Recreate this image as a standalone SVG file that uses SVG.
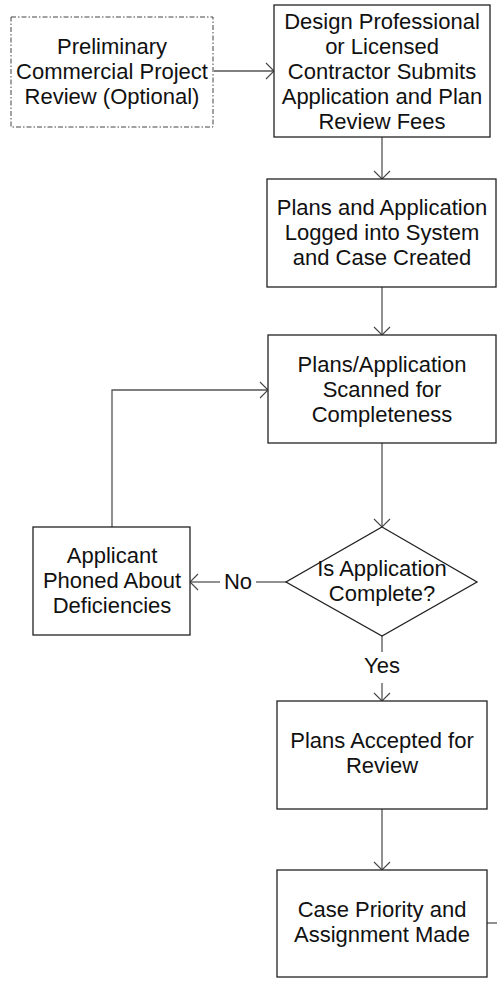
<svg xmlns="http://www.w3.org/2000/svg" width="497" height="981" viewBox="0 0 497 981">
<defs>
<style>
.box{fill:#fff;stroke:#222;stroke-width:1.3}
.dash{fill:#fff;stroke:#444;stroke-width:1;stroke-dasharray:5 2 1.5 2}
.t{font-family:"Liberation Sans",Arial,sans-serif;font-size:22px;fill:#111;text-anchor:middle}
.c{fill:none;stroke:#555;stroke-width:1.3}
</style>
<marker id="ah" markerUnits="userSpaceOnUse" markerWidth="12" markerHeight="18" refX="9" refY="8" orient="auto" overflow="visible">
<path d="M1,0 L9,8 L1,16" fill="none" stroke="#444" stroke-width="1.1"/>
</marker>
</defs>
<g id="connectors">
<line class="c" x1="214" y1="71" x2="274" y2="71" marker-end="url(#ah)"/>
<line class="c" x1="382" y1="137" x2="382" y2="179" marker-end="url(#ah)"/>
<line class="c" x1="382" y1="287" x2="382" y2="335" marker-end="url(#ah)"/>
<line class="c" x1="382" y1="443" x2="382" y2="527" marker-end="url(#ah)"/>
<polyline class="c" points="112,527 112,390 268,390" marker-end="url(#ah)"/>
<line class="c" x1="286" y1="582" x2="256" y2="582"/>
<line class="c" x1="220" y1="582" x2="190" y2="582" marker-end="url(#ah)"/>
<text class="t" x="238" y="589">No</text>
<line class="c" x1="382" y1="636" x2="382" y2="652"/>
<line class="c" x1="382" y1="683" x2="382" y2="701" marker-end="url(#ah)"/>
<text class="t" x="382" y="673">Yes</text>
<line class="c" x1="382" y1="809" x2="382" y2="870" marker-end="url(#ah)"/>
<line class="c" x1="487" y1="923" x2="497" y2="923"/>
</g>
<g id="preliminary">
<rect class="dash" x="11" y="17" width="202" height="110"/>
<text class="t" x="112" y="54">Preliminary</text>
<text class="t" x="112" y="79">Commercial Project</text>
<text class="t" x="112" y="104">Review (Optional)</text>
</g>
<g id="submit">
<rect class="box" x="274" y="5" width="216" height="132"/>
<text class="t" x="382" y="28.5">Design Professional</text>
<text class="t" x="382" y="53.5">or Licensed</text>
<text class="t" x="382" y="78.5">Contractor Submits</text>
<text class="t" x="382" y="103.5">Application and Plan</text>
<text class="t" x="382" y="128.5">Review Fees</text>
</g>
<g id="logged">
<rect class="box" x="267" y="179" width="229" height="108"/>
<text class="t" x="382" y="215">Plans and Application</text>
<text class="t" x="382" y="240">Logged into System</text>
<text class="t" x="382" y="265">and Case Created</text>
</g>
<g id="scanned">
<rect class="box" x="268" y="335" width="228" height="108"/>
<text class="t" x="382" y="372">Plans/Application</text>
<text class="t" x="382" y="397">Scanned for</text>
<text class="t" x="382" y="422">Completeness</text>
</g>
<g id="decision">
<polygon points="382,527 477,582 382,636 286,582" fill="#fff" stroke="#222" stroke-width="1.3"/>
<text class="t" x="382" y="576">Is Application</text>
<text class="t" x="382" y="601">Complete?</text>
</g>
<g id="applicant">
<rect class="box" x="33" y="527" width="157" height="108"/>
<text class="t" x="112" y="563">Applicant</text>
<text class="t" x="112" y="588">Phoned About</text>
<text class="t" x="112" y="613">Deficiencies</text>
</g>
<g id="accepted">
<rect class="box" x="277" y="701" width="210" height="108"/>
<text class="t" x="382" y="748">Plans Accepted for</text>
<text class="t" x="382" y="773">Review</text>
</g>
<g id="priority">
<rect class="box" x="277" y="870" width="210" height="107"/>
<text class="t" x="382" y="917">Case Priority and</text>
<text class="t" x="382" y="942">Assignment Made</text>
</g>
</svg>
